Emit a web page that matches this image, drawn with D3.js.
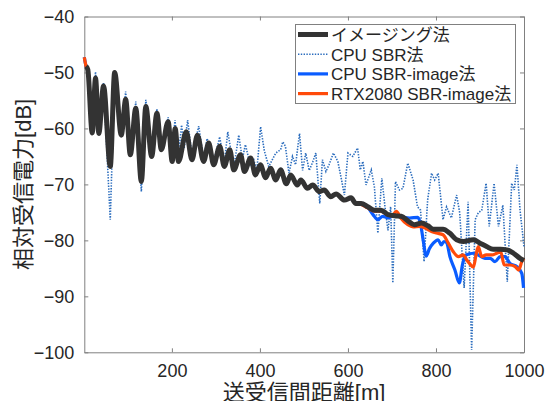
<!DOCTYPE html>
<html>
<head>
<meta charset="utf-8">
<script src="https://cdn.jsdelivr.net/npm/d3@7/dist/d3.min.js"></script>
<style>
  body { margin: 0; background: #fff; }
  text { font-family: "Liberation Sans", "Noto Sans CJK JP", sans-serif; fill: #262626; }
</style>
</head>
<body>
<div class="grafico"></div>
<script>
var margin = {top: 16.5, right: 21, bottom: 48.7, left: 84.3},
  width = 545,
  height = 401;

// distance [m], received power [dB]
// the four curves coincide over the first part, so that part is kept once
const sharedHead = [
  [5,-48.9],[9,-49.5],[19,-60.8],[26.5,-51.0],[34,-60.9],[44.7,-52.4],[60,-66.8],[70,-50.0],
  [85,-61.2],[95,-54.8],[105.5,-64.7],[118,-56.4],[130.6,-69.5],[140.8,-56.1],[154,-65.0],
  [166,-57.3],[176,-63.8],[191.5,-58.8],[200.7,-65.9],[207.5,-60.0],[215,-65.9],[232.6,-60.6],
  [245.6,-65.6],[258,-61.2],[272,-65.9],[283.6,-62.6],[295,-66.5],[308.7,-63.2],[319,-66.8],
  [331.5,-63.8],[340.6,-67.4],[356,-64.7],[365,-67.7],[378.8,-65.3],[390,-68.3],[401,-66.5],
  [413,-68.8],[424,-67.1],[436,-69.2],[447,-67.4],[460,-69.9],[470,-68.3],[485,-70.1],
  [493,-69.2],[508,-70.7],[520,-70.1],[535,-71.3],[546,-71.0],[561,-72.2],[573,-71.7],[592,-72.8]
];

const imagingTail = [
  [607,-72.4],[618,-73.4],[630,-73.4],[645,-74.0],[660,-74.6],[675,-74.6],[691,-75.4],[706,-75.6],
  [721,-75.7],[736,-76.5],[751,-77.2],[767,-76.9],[782,-77.4],[794,-78.0],[816,-78.0],[831,-78.7],
  [847,-79.9],[862,-80.2],[885,-79.9],[900,-80.5],[915,-81.1],[930,-81.6],[946,-81.6],[961,-81.7],
  [976,-82.3],[991,-83.2],[1000,-83.6]
];

const sbrImageTail = [
  [607,-72.5],[618,-73.4],[630,-73.5],[645,-74.1],[657,-75.4],[668,-76.3],[679,-75.7],[691,-76.0],
  [706,-75.5],[720,-75.8],[740,-76.0],[759,-75.9],[766,-77.5],[771,-80.0],[778,-82.8],[785,-81.5],
  [794,-80.5],[805,-79.9],[812,-80.8],[818,-80.2],[824,-80.4],[832,-83.0],[843,-85.3],[853,-87.6],
  [860,-84.4],[868,-82.6],[885,-82.3],[896,-82.6],[911,-83.2],[923,-83.2],[934,-83.8],[946,-82.9],
  [957,-82.9],[968,-84.1],[984,-84.7],[995,-85.9],[999,-88.5]
];

const rtxTail = [
  [607,-72.5],[618,-73.3],[630,-73.6],[645,-74.2],[660,-74.8],[675,-74.8],[691,-75.5],[700,-75.6],
  [710,-74.8],[720,-76.0],[736,-77.2],[748,-77.6],[763,-77.5],[775,-77.8],[790,-78.4],[801,-78.7],
  [816,-79.0],[828,-80.5],[839,-82.0],[851,-82.9],[862,-82.6],[870,-83.5],[877,-84.2],[885,-84.8],
  [891,-82.6],[896,-81.1],[904,-82.9],[914,-82.6],[927,-82.6],[938,-82.3],[947,-82.0],[955,-84.4],
  [968,-84.4],[980,-84.7],[988,-85.3],[995,-83.8],[1000,-83.2]
];

const sbr = [
  [1,-47.3],[5,-48.9],[9,-49.5],[19,-60.5],[26.5,-49.9],[34,-60.5],[44.7,-51.9],[60,-76.3],[70,-49.8],
  [85,-60.8],[95,-53.4],[105.5,-64.3],[118,-55.2],[130.6,-71.3],[140.8,-54.9],[154,-64.5],[166,-56.5],
  [176,-63.5],[191.5,-58.0],[200.7,-64.5],[207,-58.5],[215,-64.8],[222,-59.4],[228,-63.5],[235.7,-58.5],
  [245.6,-64.8],[261,-59.6],[272,-65.5],[280,-61.8],[295,-66.0],[308.6,-61.5],[319,-66.3],[327,-60.6],
  [340.6,-67.0],[352,-61.2],[360,-65.5],[367,-62.9],[378,-66.5],[386,-65.6],[393,-67.5],[401.6,-59.7],
  [410,-64.0],[420,-66.8],[436,-64.4],[447,-63.8],[452,-62.4],[458,-63.2],[466,-68.0],[474,-65.0],
  [481,-66.5],[490,-60.9],[497,-67.5],[504,-64.4],[512,-67.5],[520,-66.0],[527,-64.4],[536,-73.4],
  [542,-65.6],[550,-67.7],[557,-66.5],[567,-64.4],[577,-65.9],[585,-69.0],[592,-71.9],[600,-64.4],
  [611,-65.0],[622,-63.5],[628,-67.4],[634,-65.9],[641,-70.1],[653,-67.4],[660,-70.4],[668,-78.7],
  [677,-68.9],[685,-74.6],[691,-78.2],[697,-74.0],[702,-87.6],[708,-69.5],[717,-71.0],[725,-70.7],
  [736,-66.2],[748,-69.2],[758,-74.0],[765,-74.6],[773,-83.8],[781,-72.8],[790,-68.0],[797,-69.2],
  [805,-68.0],[816,-76.3],[824,-74.0],[835,-76.0],[847,-71.9],[854,-75.1],[864,-88.5],[873,-73.1],
  [881,-99.6],[889,-76.3],[896,-75.1],[904,-74.6],[914,-69.8],[921,-77.5],[932,-69.8],[942,-77.5],
  [952,-73.7],[962,-87.4],[972,-69.8],[978,-71.0],[984,-66.5],[991,-74.6],[1000,-81.1]
];

const startPoint = [[1,-47.3]];

const xTicks = [200, 400, 600, 800, 1000];
const yTicks = [-100, -90, -80, -70, -60, -50, -40];
const legendLabels = ["イメージング法", "CPU SBR法", "CPU SBR-image法", "RTX2080 SBR-image法"];

const imaging = sharedHead.concat(imagingTail);
const sbrImage = startPoint.concat(sharedHead, sbrImageTail);
const rtx = startPoint.concat(sharedHead, rtxTail);

let svg = d3.select(".grafico")
  .append("svg")
  .attr("width", width)
  .attr("height", height);

const x = d3.scaleLinear()
  .domain([1, 1000])
  .range([margin.left, width - margin.right]);

const y = d3.scaleLinear()
  .domain([-100, -40])
  .range([height - margin.bottom, margin.top]);

const axisColor = "#808080";

// axes with inward ticks, box on all sides
svg.append("g")
  .attr("class", "x axis")
  .attr("transform", "translate(0," + y(-100) + ")")
  .call(d3.axisBottom(x).tickValues(xTicks).tickFormat(d3.format("d")).tickSize(-4).tickPadding(12).tickSizeOuter(0))
  .call(g => g.selectAll("text").attr("font-size", 18).style("fill", "#262626"));

svg.append("g")
  .attr("transform", "translate(0," + y(-40) + ")")
  .call(d3.axisTop(x).tickValues(xTicks).tickSize(-4).tickFormat("").tickSizeOuter(0));

svg.append("g")
  .attr("class", "y axis")
  .attr("transform", "translate(" + x(1) + ",0)")
  .call(d3.axisLeft(y).tickValues(yTicks).tickSize(-4).tickPadding(10).tickSizeOuter(0))
  .call(g => g.selectAll("text").attr("font-size", 18).style("fill", "#262626"));

svg.append("g")
  .attr("transform", "translate(" + x(1000) + ",0)")
  .call(d3.axisRight(y).tickValues(yTicks).tickSize(-4).tickFormat("").tickSizeOuter(0));

svg.selectAll(".domain, .tick line").attr("stroke", axisColor);

const line = d3.line()
  .x(d => x(d[0]))
  .y(d => y(d[1]))
  .curve(d3.curveMonotoneX);

const lineSharp = d3.line()
  .x(d => x(d[0]))
  .y(d => y(d[1]));

svg.append("path").datum(sbr)
  .attr("d", lineSharp)
  .attr("fill", "none")
  .attr("stroke", "#2a6cbd")
  .attr("stroke-width", 1.6)
  .attr("stroke-dasharray", "1.4,1.4");

svg.append("path").datum(sbrImage)
  .attr("d", line)
  .attr("fill", "none")
  .attr("stroke", "#0a5cff")
  .attr("stroke-width", 3.2)
  .attr("stroke-linejoin", "round");

svg.append("path").datum(rtx)
  .attr("d", line)
  .attr("fill", "none")
  .attr("stroke", "#ff4a0a")
  .attr("stroke-width", 3.2)
  .attr("stroke-linejoin", "round");

svg.append("path").datum(imaging)
  .attr("d", line)
  .attr("fill", "none")
  .attr("stroke", "#333333")
  .attr("stroke-width", 5)
  .attr("stroke-linejoin", "round");

// axis labels
svg.append("text")
  .attr("x", (x(1) + x(1000)) / 2)
  .attr("y", 400)
  .attr("text-anchor", "middle")
  .attr("font-size", 22)
  .text("送受信間距離[m]");

svg.append("text")
  .attr("transform", "translate(31," + ((y(-40) + y(-100)) / 2) + ") rotate(-90)")
  .attr("text-anchor", "middle")
  .attr("font-size", 22)
  .text("相対受信電力[dB]");

// legend
const styles = [
  {color: "#333333", w: 5, dash: null},
  {color: "#2a6cbd", w: 1.6, dash: "1.4,1.4"},
  {color: "#0a5cff", w: 3.2, dash: null},
  {color: "#ff4a0a", w: 3.2, dash: null}
];

let lg = svg.append("g");
lg.append("rect")
  .attr("x", 295.5).attr("y", 24.5)
  .attr("width", 220).attr("height", 79)
  .attr("fill", "#fff")
  .attr("stroke", axisColor)
  .attr("stroke-width", 1);

let items = lg.selectAll(".legend")
  .data(legendLabels)
  .enter().append("g")
  .attr("class", "legend")
  .attr("transform", (d, i) => "translate(0," + (34.5 + i * 19.7) + ")");

items.append("line")
  .attr("x1", 298).attr("x2", 328)
  .attr("stroke", (d, i) => styles[i].color)
  .attr("stroke-width", (d, i) => styles[i].w)
  .attr("stroke-dasharray", (d, i) => styles[i].dash);

items.append("text")
  .attr("x", 331)
  .attr("y", 6.5)
  .attr("font-size", 17)
  .text(d => d);
</script>
</body>
</html>
